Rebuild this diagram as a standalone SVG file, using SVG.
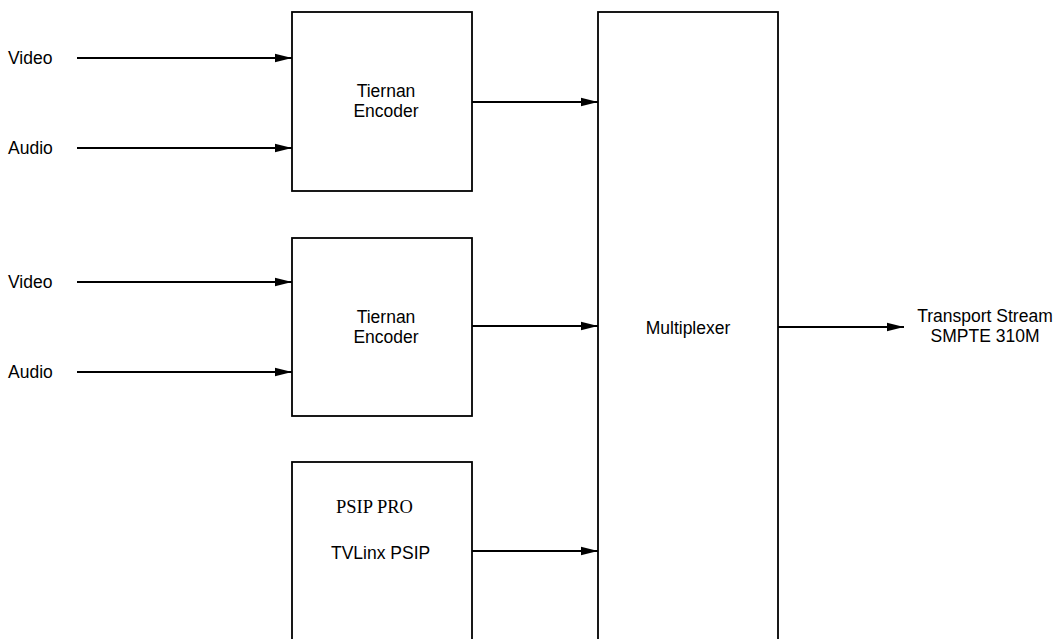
<svg xmlns="http://www.w3.org/2000/svg" width="1060" height="639" viewBox="0 0 1060 639">
<style>
.box{fill:#fff;stroke:#000;stroke-width:1.8}
.ln{stroke:#000;stroke-width:1.8;fill:none;marker-end:url(#ah)}
.t{font-family:"Liberation Sans",Arial,sans-serif;font-size:17.5px;fill:#000}
.s{font-family:"Liberation Serif","Times New Roman",serif;font-size:18.5px;fill:#000}
</style>
<defs>
<marker id="ah" markerUnits="userSpaceOnUse" markerWidth="17" markerHeight="10" refX="17" refY="5" orient="auto">
<path d="M0,0.8 L17,5 L0,9.2 z" fill="#000"/>
</marker>
</defs>
<rect width="1060" height="639" fill="#fff"/>
<g id="enc1">
<rect class="box" x="292" y="12" width="180" height="179"/>
<text class="t" x="386" y="97" text-anchor="middle">Tiernan</text>
<text class="t" x="386" y="117" text-anchor="middle">Encoder</text>
</g>
<g id="enc2">
<rect class="box" x="292" y="238" width="180" height="178"/>
<text class="t" x="386" y="323" text-anchor="middle">Tiernan</text>
<text class="t" x="386" y="343" text-anchor="middle">Encoder</text>
</g>
<g id="psip">
<rect class="box" x="292" y="462" width="180" height="190"/>
<text class="s" x="336" y="513">PSIP PRO</text>
<text class="t" x="331" y="559">TVLinx PSIP</text>
</g>
<g id="mux">
<rect class="box" x="598" y="12" width="180" height="640"/>
<text class="t" x="688" y="334" text-anchor="middle">Multiplexer</text>
</g>
<g id="labels">
<text class="t" x="8" y="64">Video</text>
<text class="t" x="8" y="154">Audio</text>
<text class="t" x="8" y="288">Video</text>
<text class="t" x="8" y="378">Audio</text>
<text class="t" x="985" y="322" text-anchor="middle">Transport Stream</text>
<text class="t" x="985" y="342" text-anchor="middle">SMPTE 310M</text>
</g>
<g id="connectors">
<line class="ln" x1="77" y1="58" x2="292" y2="58"/>
<line class="ln" x1="77" y1="148" x2="292" y2="148"/>
<line class="ln" x1="77" y1="282" x2="292" y2="282"/>
<line class="ln" x1="77" y1="372" x2="292" y2="372"/>
<line class="ln" x1="472" y1="102" x2="598" y2="102"/>
<line class="ln" x1="472" y1="326" x2="598" y2="326"/>
<line class="ln" x1="472" y1="551" x2="598" y2="551"/>
<line class="ln" x1="778" y1="327" x2="904" y2="327"/>
</g>
</svg>
